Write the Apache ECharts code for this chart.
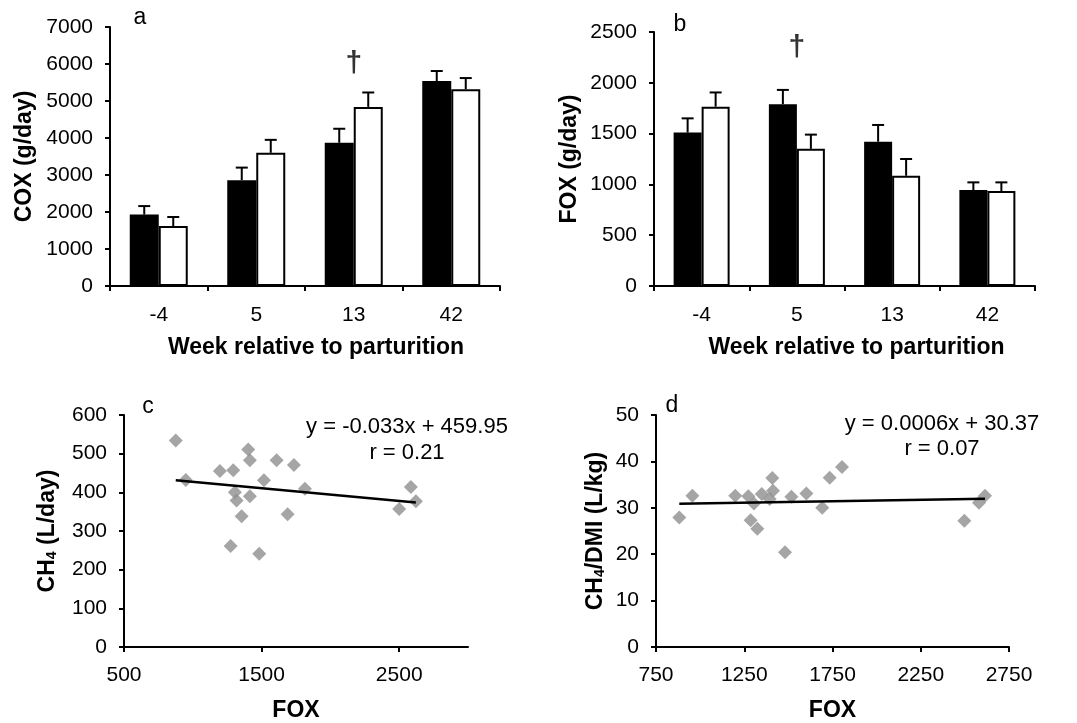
<!DOCTYPE html>
<html>
<head>
<meta charset="utf-8">
<title>COX, FOX and CH4</title>
<script src="https://cdn.jsdelivr.net/npm/echarts@6/dist/echarts.min.js"></script>
<style>
  html, body { margin: 0; padding: 0; background: #fff; }
  #chart { width: 1077px; height: 723px; }
</style>
</head>
<body>
<div id="chart"></div>
<script>
// Weeks relative to parturition
const weeks = ['-4', '5', '13', '42'];

// Panel a: COX (g/day), mean and SE for the two groups
const coxBlack = [1930, 2860, 3870, 5540];
const coxBlackSE = [230, 340, 380, 270];
const coxWhite = [1620, 3600, 4840, 5320];
const coxWhiteSE = [245, 350, 390, 300];

// Panel b: FOX (g/day), mean and SE for the two groups
const foxBlack = [1510, 1790, 1420, 945];
const foxBlackSE = [140, 140, 165, 75];
const foxWhite = [1765, 1350, 1085, 935];
const foxWhiteSE = [140, 140, 165, 85];

// Panel c: CH4 (L/day) against FOX
const foxC = [876, 949, 1197, 1275, 1294, 1306, 1318, 1355, 1403, 1415, 1415, 1483, 1517, 1609, 1689, 1735, 1815, 2500, 2585, 2621];
const ch4 = [534, 432, 455, 261, 457, 400, 379, 338, 511, 483, 390, 241, 431, 483, 343, 471, 409, 357, 414, 377];

// Panel d: CH4/DMI (L/kg) against FOX
const foxD = [882, 956, 1199, 1273, 1286, 1305, 1324, 1349, 1394, 1409, 1413, 1481, 1517, 1602, 1692, 1734, 1804, 2497, 2580, 2614];
const ch4Dmi = [27.9, 32.6, 32.6, 32.5, 27.3, 30.9, 25.5, 33.0, 31.9, 36.4, 33.7, 20.4, 32.4, 33.1, 30.0, 36.5, 38.8, 27.2, 31.1, 32.6];

// Regression lines printed on panels c and d
const fitC = { slope: -0.033, intercept: 459.95, r: 0.21 };
const fitD = { slope: 0.0006, intercept: 30.37, r: 0.07 };

// Significance marks (category, height)
const daggerA = ['13', 6000];
const daggerB = ['5', 2350];

// Tick labels on the panel c x axis
const ticksCx = [500, 1500, 2500];

const FONT = "'Liberation Sans', Arial, sans-serif";
const INK = '#000';
const GREY = '#8f8f8f';

function zip(xs, ys) { return xs.map((x, i) => [x, ys[i]]); }
function fitEnds(xs, fit) {
  const lo = Math.min(...xs), hi = Math.max(...xs);
  return [[lo, fit.slope * lo + fit.intercept], [hi, fit.slope * hi + fit.intercept]];
}
function fmtEq(fit) {
  const sign = fit.intercept >= 0 ? '+' : '-';
  return 'y = ' + fit.slope + 'x ' + sign + ' ' + Math.abs(fit.intercept).toFixed(2) + '\nr = ' + fit.r.toFixed(2);
}
const plain = v => String(v);

const axisLine = { show: true, lineStyle: { color: INK, width: 2 } };
const axisTick = { show: true, length: 5, inside: false, lineStyle: { color: INK, width: 2 } };
const tickLabel = { color: INK, fontSize: 21, fontFamily: FONT, formatter: plain };
const nameStyle = {
  color: INK, fontSize: 23, fontWeight: 'bold', fontFamily: FONT,
  rich: {
    b: { color: INK, fontSize: 23, fontWeight: 'bold', fontFamily: FONT },
    s: { color: INK, fontSize: 14, fontWeight: 'bold', fontFamily: FONT, verticalAlign: 'bottom', lineHeight: 9 }
  }
};

function valueY(gridIndex, max, interval, name, gap) {
  return {
    type: 'value', gridIndex, min: 0, max, interval,
    name, nameLocation: 'middle', nameGap: gap, nameRotate: 90,
    nameTextStyle: nameStyle,
    axisLine, axisTick, splitLine: { show: false },
    axisLabel: Object.assign({ margin: 17 }, tickLabel)
  };
}

// Upward error bar with a cap, offset to the centre of its bar
function errorBars(xAxisIndex, yAxisIndex, means, ses, offset) {
  return {
    type: 'custom', xAxisIndex, yAxisIndex, z: 5,
    data: means.map((m, i) => [i, m, ses[i]]),
    renderItem(params, api) {
      const base = api.coord([api.value(0), api.value(1)]);
      const top = api.coord([api.value(0), api.value(1) + api.value(2)]);
      const x = base[0] + offset;
      const cap = 6;
      const st = { stroke: INK, lineWidth: 2 };
      return {
        type: 'group',
        children: [
          { type: 'line', shape: { x1: x, y1: base[1], x2: x, y2: top[1] }, style: st },
          { type: 'line', shape: { x1: x - cap, y1: top[1], x2: x + cap, y2: top[1] }, style: st }
        ]
      };
    }
  };
}

function barSeries(xAxisIndex, yAxisIndex, values, fill, width) {
  return {
    type: 'bar', xAxisIndex, yAxisIndex, data: values,
    barWidth: width, barGap: '0%',
    itemStyle: { color: fill, borderColor: INK, borderWidth: 2 },
    silent: true
  };
}

function dagger(xAxisIndex, yAxisIndex, point) {
  return {
    type: 'scatter', xAxisIndex, yAxisIndex, data: [point],
    symbolSize: 0, silent: true,
    label: { show: true, position: 'inside', formatter: '\u2020', color: INK, fontSize: 30, fontWeight: 'bold', fontFamily: FONT }
  };
}

const BW_A = 29, BW_B = 28;

const option = {
  animation: false,
  backgroundColor: '#fff',
  textStyle: { fontFamily: FONT },
  grid: [
    { left: 110, top: 27, width: 390, height: 259 },
    { left: 654, top: 32, width: 381, height: 254 },
    { left: 124, top: 415, width: 344, height: 235 },
    { left: 656, top: 415, width: 353, height: 235 }
  ],
  xAxis: [
    {
      type: 'category', gridIndex: 0, data: weeks,
      name: 'Week relative to parturition', nameLocation: 'middle', nameGap: 50,
      nameTextStyle: Object.assign({}, nameStyle, { padding: [0, 0, 0, 22] }),
      axisLine, axisTick: Object.assign({ alignWithLabel: false }, axisTick),
      axisLabel: Object.assign({ margin: 19 }, tickLabel)
    },
    {
      type: 'category', gridIndex: 1, data: weeks,
      name: 'Week relative to parturition', nameLocation: 'middle', nameGap: 50,
      nameTextStyle: Object.assign({}, nameStyle, { padding: [0, 0, 0, 24] }),
      axisLine, axisTick: Object.assign({ alignWithLabel: false }, axisTick),
      axisLabel: Object.assign({ margin: 19 }, tickLabel)
    },
    {
      type: 'value', gridIndex: 2, min: 500, max: 3000, interval: 1000,
      name: 'FOX', nameLocation: 'middle', nameGap: 52, nameTextStyle: nameStyle,
      axisLine, axisTick: Object.assign({ customValues: ticksCx }, axisTick),
      splitLine: { show: false },
      axisLabel: Object.assign({ margin: 18, customValues: ticksCx }, tickLabel)
    },
    {
      type: 'value', gridIndex: 3, min: 750, max: 2750, interval: 500,
      name: 'FOX', nameLocation: 'middle', nameGap: 52, nameTextStyle: nameStyle,
      axisLine, axisTick, splitLine: { show: false },
      axisLabel: Object.assign({ margin: 18 }, tickLabel)
    }
  ],
  yAxis: [
    valueY(0, 7000, 1000, 'COX (g/day)', 74),
    valueY(1, 2500, 500, 'FOX (g/day)', 73),
    valueY(2, 600, 100, '{b|CH}{s|4}{b| (L/day)}', 65),
    valueY(3, 50, 10, '{b|CH}{s|4}{b|/DMI (L/kg)}', 49)
  ],
  series: [
    barSeries(0, 0, coxBlack, '#000', BW_A),
    barSeries(0, 0, coxWhite, '#fff', BW_A),
    errorBars(0, 0, coxBlack, coxBlackSE, -BW_A / 2),
    errorBars(0, 0, coxWhite, coxWhiteSE, BW_A / 2),
    dagger(0, 0, daggerA),

    barSeries(1, 1, foxBlack, '#000', BW_B),
    barSeries(1, 1, foxWhite, '#fff', BW_B),
    errorBars(1, 1, foxBlack, foxBlackSE, -BW_B / 2),
    errorBars(1, 1, foxWhite, foxWhiteSE, BW_B / 2),
    dagger(1, 1, daggerB),

    {
      type: 'scatter', xAxisIndex: 2, yAxisIndex: 2, data: zip(foxC, ch4),
      symbol: 'diamond', symbolSize: 14, itemStyle: { color: GREY }, silent: true
    },
    {
      type: 'line', xAxisIndex: 2, yAxisIndex: 2, data: fitEnds(foxC, fitC),
      symbol: 'none', lineStyle: { color: INK, width: 2.5 }, silent: true, z: 3
    },
    {
      type: 'scatter', xAxisIndex: 3, yAxisIndex: 3, data: zip(foxD, ch4Dmi),
      symbol: 'diamond', symbolSize: 14, itemStyle: { color: GREY }, silent: true
    },
    {
      type: 'line', xAxisIndex: 3, yAxisIndex: 3, data: fitEnds(foxD, fitD),
      symbol: 'none', lineStyle: { color: INK, width: 2.5 }, silent: true, z: 3
    }
  ],
  graphic: [
    { type: 'text', x: 140, y: 18, style: { text: 'a', fill: INK, font: '23px ' + FONT, align: 'center', verticalAlign: 'middle' } },
    { type: 'text', x: 680, y: 25, style: { text: 'b', fill: INK, font: '23px ' + FONT, align: 'center', verticalAlign: 'middle' } },
    { type: 'text', x: 148, y: 407, style: { text: 'c', fill: INK, font: '23px ' + FONT, align: 'center', verticalAlign: 'middle' } },
    { type: 'text', x: 672, y: 406, style: { text: 'd', fill: INK, font: '23px ' + FONT, align: 'center', verticalAlign: 'middle' } },
    { type: 'text', x: 407, y: 440, style: { text: fmtEq(fitC), fill: INK, font: '22px ' + FONT, align: 'center', verticalAlign: 'middle', lineHeight: 26 } },
    { type: 'text', x: 942, y: 436, style: { text: fmtEq(fitD), fill: INK, font: '22px ' + FONT, align: 'center', verticalAlign: 'middle', lineHeight: 25 } }
  ]
};

const chart = echarts.init(document.getElementById('chart'), null, { renderer: 'canvas' });
chart.setOption(option);
</script>
</body>
</html>
